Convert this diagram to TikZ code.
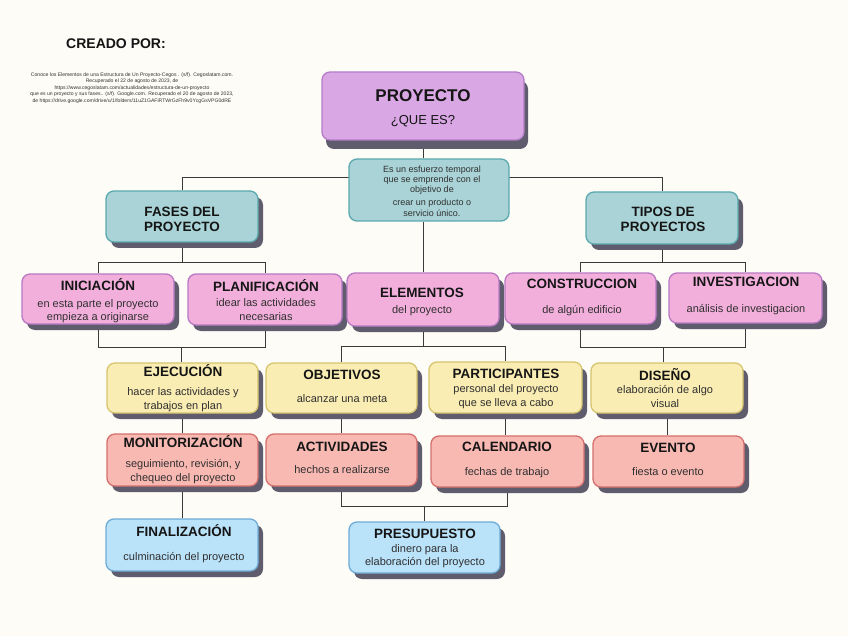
\documentclass[tikz,border=0pt]{standalone}
\usepackage{fontspec}
\setmainfont{Liberation Sans}
\usetikzlibrary{shadows,calc}
\pgfdeclarelayer{bglayer}
\pgfdeclarelayer{connlayer}
\pgfsetlayers{bglayer,connlayer,main}
\definecolor{bgc}{HTML}{FDFCF7}
\definecolor{shc}{HTML}{5E5C6D}
\definecolor{linec}{HTML}{3A3A3A}
\definecolor{txt}{HTML}{151515}
\definecolor{btxt}{HTML}{303030}
\definecolor{purF}{HTML}{D9A7E4}\definecolor{purD}{HTML}{B57DC7}
\definecolor{teaF}{HTML}{A9D3D6}\definecolor{teaD}{HTML}{5BA9AF}
\definecolor{pinF}{HTML}{F3AFDC}\definecolor{pinD}{HTML}{B878C2}
\definecolor{yelF}{HTML}{FAEDB3}\definecolor{yelD}{HTML}{D6C46E}
\definecolor{salF}{HTML}{F9B9B3}\definecolor{salD}{HTML}{D4706D}
\definecolor{bluF}{HTML}{BAE2F9}\definecolor{bluD}{HTML}{6EACD6}
\newcommand\bxn[6]{%
  \pgfmathsetmacro\bxcx{(#3+#5)/2}\pgfmathsetmacro\bxcy{(#4+#6)/2}%
  \pgfmathsetmacro\bxw{#5-#3}\pgfmathsetmacro\bxh{#6-#4}%
  \node[#2, minimum width=\bxw pt, minimum height=\bxh pt] (#1) at (\bxcx,\bxcy) {};}
\begin{document}
\begin{tikzpicture}[x=1pt,y=-1pt,
  conn/.style={draw=linec, line width=0.9pt},
  boxbase/.style={rectangle, rounded corners=8pt, line width=1.3pt, inner sep=0pt,
    drop shadow={shadow xshift=5pt, shadow yshift=-6pt, fill=shc, opacity=1}},
  purbox/.style={rectangle, rounded corners=8pt, line width=1.3pt, inner sep=0pt, draw=purD, fill=purF,
    drop shadow={shadow xshift=4pt, shadow yshift=-9pt, fill=shc, opacity=1}},
  teabox/.style={boxbase, draw=teaD, fill=teaF},
  descbox/.style={rectangle, rounded corners=8pt, line width=1.3pt, inner sep=0pt, draw=teaD, fill=teaF},
  pinbox/.style={boxbase, draw=pinD, fill=pinF},
  yelbox/.style={boxbase, draw=yelD, fill=yelF},
  salbox/.style={boxbase, draw=salD, fill=salF},
  blubox/.style={boxbase, draw=bluD, fill=bluF},
  tt/.style={anchor=base, inner sep=0pt, text=txt, font=\bfseries\fontsize{13.5}{15}\selectfont},
  bd/.style={anchor=base, inner sep=0pt, text=btxt, font=\fontsize{11}{13}\selectfont},
  ds/.style={anchor=base, inner sep=0pt, text=btxt, font=\fontsize{9}{11}\selectfont},
  ct/.style={anchor=base, inner sep=0pt, text=btxt, font=\fontsize{5.1}{6}\selectfont}
]
\useasboundingbox (0,0) rectangle (848,636);
\begin{pgfonlayer}{bglayer}
\fill[bgc] (0,0) rectangle (848,636);
\end{pgfonlayer}

% ---- boxes ----
\bxn{proy}{purbox}{322}{72}{524}{140}
\bxn{desc}{descbox}{349}{159}{509}{221}
\bxn{fases}{teabox}{106}{191}{258}{242}
\bxn{tipos}{teabox}{586}{192}{738}{244}
\bxn{inic}{pinbox}{22}{274}{174}{324}
\bxn{plan}{pinbox}{188}{274}{342}{325}
\bxn{elem}{pinbox}{347}{273}{499}{326}
\bxn{const}{pinbox}{505}{273}{656}{324}
\bxn{inv}{pinbox}{669}{273}{822}{323}
\bxn{ejec}{yelbox}{107}{363}{258}{413}
\bxn{obj}{yelbox}{266}{363}{417}{413}
\bxn{part}{yelbox}{429}{362}{582}{413}
\bxn{dis}{yelbox}{591}{363}{743}{413}
\bxn{monit}{salbox}{107}{434}{258}{486}
\bxn{act}{salbox}{266}{434}{417}{486}
\bxn{cal}{salbox}{431}{436}{584}{487}
\bxn{evt}{salbox}{593}{436}{744}{487}
\bxn{final}{blubox}{106}{519}{258}{571}
\bxn{pres}{blubox}{349}{522}{500}{573}

% ---- connectors (behind the boxes) ----
\begin{pgfonlayer}{connlayer}
\draw[conn] (proy.south) -- (proy.south |- desc.north);
\draw[conn] (proy.south |- desc.south) -- (elem.north);
\draw[conn] (fases.north) -- ++(0,-13) -| (tipos.north);
% fases -> inic / plan
\path (inic.north) ++(0,-11) coordinate (h1);
\draw[conn] (inic.north) -- (h1) -| (plan.north);
\draw[conn] (fases.south) -- (fases.south |- h1);
% inic / plan -> ejec
\path (inic.south) ++(0,23) coordinate (h2);
\draw[conn] (inic.south) -- (h2) -| (plan.south);
\coordinate (m2) at ($(h2)!0.5!(h2 -| plan.south)$);
\draw[conn] (m2) -- (m2 |- ejec.north);
\draw[conn] (ejec.south) -- (ejec.south |- monit.north);
\draw[conn] (monit.south) -- (monit.south |- final.north);
% tipos -> const / inv
\path (const.north) ++(0,-10) coordinate (h3);
\draw[conn] (const.north) -- (h3) -| (inv.north);
\draw[conn] (tipos.south) -- (tipos.south |- h3);
% const / inv -> dis
\path (const.south) ++(0,23) coordinate (h4);
\draw[conn] (const.south) -- (h4) -| (inv.south);
\coordinate (m4) at ($(h4)!0.5!(h4 -| inv.south)$);
\draw[conn] (m4) -- (m4 |- dis.north);
\draw[conn] (dis.south) -- (dis.south |- evt.north);
% elem -> obj / part
\path (obj.north) ++(0,-16) coordinate (h5);
\draw[conn] (obj.north) -- (h5) -| (part.north);
\draw[conn] (elem.south) -- (elem.south |- h5);
\draw[conn] (obj.south) -- (obj.south |- act.north);
\draw[conn] (part.south) -- (part.south |- cal.north);
% act / cal -> pres
\path (act.south) ++(0,20) coordinate (h6);
\draw[conn] (act.south) -- (h6) -| (cal.south);
\coordinate (m6) at ($(h6)!0.5!(h6 -| cal.south)$);
\draw[conn] (m6) -- (m6 |- pres.north);
\end{pgfonlayer}

% ---- texts ----
\node[tt, font=\bfseries\fontsize{14}{16}\selectfont] (creado) at (116,49) {CREADO POR:};
\node[ct] (c1) at (132,76.5) {Conoce los Elementos de una Estructura de Un Proyecto-Cegos . (s/f). Cegoslatam.com.};
\node[ct] (c2) at (132,83) {Recuperado el 22 de agosto de 2023, de};
\node[ct] (c3) at (132,89.5) {https://www.cegoslatam.com/actualidades/estructura-de-un-proyecto};
\node[ct] (c4) at (132,96) {que es un proyecto y sus fases.. (s/f). Google.com. Recuperado el 20 de agosto de 2023,};
\node[ct] (c5) at (132,102.5) {de https://drive.google.com/drive/u/1/folders/11uZ1GAFiRTWrGzFh9v0YcgGsVPG0dRE};

\node[tt, font=\bfseries\fontsize{17}{19}\selectfont] (proyT) at (423,101.5) {PROYECTO};
\node[bd, text=txt, font=\fontsize{13}{15}\selectfont] (proyS) at (423,125) {¿QUE ES?};

\node[ds] (d1) at (432,172.5) {Es un esfuerzo temporal};
\node[ds] (d2) at (432,182.5) {que se emprende con el};
\node[ds] (d3) at (432,192.5) {objetivo de};
\node[ds] (d4) at (432,206) {crear un producto o};
\node[ds] (d5) at (432,217) {servicio único.};

\node[tt] (fasesT1) at (182,217) {FASES DEL};
\node[tt] (fasesT2) at (182,232) {PROYECTO};
\node[tt] (tiposT1) at (663,217) {TIPOS DE};
\node[tt] (tiposT2) at (663,232) {PROYECTOS};

\node[tt] (inicT) at (98,290) {INICIACIÓN};
\node[bd] (inic1) at (98,307) {en esta parte el proyecto};
\node[bd] (inic2) at (98,320.5) {empieza a originarse};

\node[tt] (planT) at (266,291) {PLANIFICACIÓN};
\node[bd] (plan1) at (266,306) {idear las actividades};
\node[bd] (plan2) at (266,320) {necesarias};

\node[tt] (elemT) at (422,297) {ELEMENTOS};
\node[bd] (elem1) at (422,313) {del proyecto};

\node[tt] (constT) at (582,288) {CONSTRUCCION};
\node[bd] (const1) at (582,313) {de algún edificio};

\node[tt] (invT) at (746,286) {INVESTIGACION};
\node[bd] (inv1) at (746,312.5) {análisis de investigacion};

\node[tt] (ejecT) at (183,376) {EJECUCIÓN};
\node[bd] (ejec1) at (183,395) {hacer las actividades y};
\node[bd] (ejec2) at (183,409.5) {trabajos en plan};

\node[tt] (objT) at (342,379) {OBJETIVOS};
\node[bd] (obj1) at (342,402) {alcanzar una meta};

\node[tt] (partT) at (506,378) {PARTICIPANTES};
\node[bd] (part1) at (506,392) {personal del proyecto};
\node[bd] (part2) at (506,406) {que se lleva a cabo};

\node[tt] (disT) at (665,380) {DISEÑO};
\node[bd] (dis1) at (665,393) {elaboración de algo};
\node[bd] (dis2) at (665,407) {visual};

\node[tt] (monitT) at (183,447) {MONITORIZACIÓN};
\node[bd] (monit1) at (183,467) {seguimiento, revisión, y};
\node[bd] (monit2) at (183,481) {chequeo del proyecto};

\node[tt] (actT) at (342,451) {ACTIVIDADES};
\node[bd] (act1) at (342,473) {hechos a realizarse};

\node[tt] (calT) at (507,451) {CALENDARIO};
\node[bd] (cal1) at (507,475) {fechas de trabajo};

\node[tt] (evtT) at (668,452) {EVENTO};
\node[bd] (evt1) at (668,475) {fiesta o evento};

\node[tt] (finalT) at (184,536) {FINALIZACIÓN};
\node[bd] (final1) at (184,560) {culminación del proyecto};

\node[tt] (presT) at (425,538) {PRESUPUESTO};
\node[bd] (pres1) at (425,552) {dinero para la};
\node[bd] (pres2) at (425,565.5) {elaboración del proyecto};
\end{tikzpicture}
\end{document}
